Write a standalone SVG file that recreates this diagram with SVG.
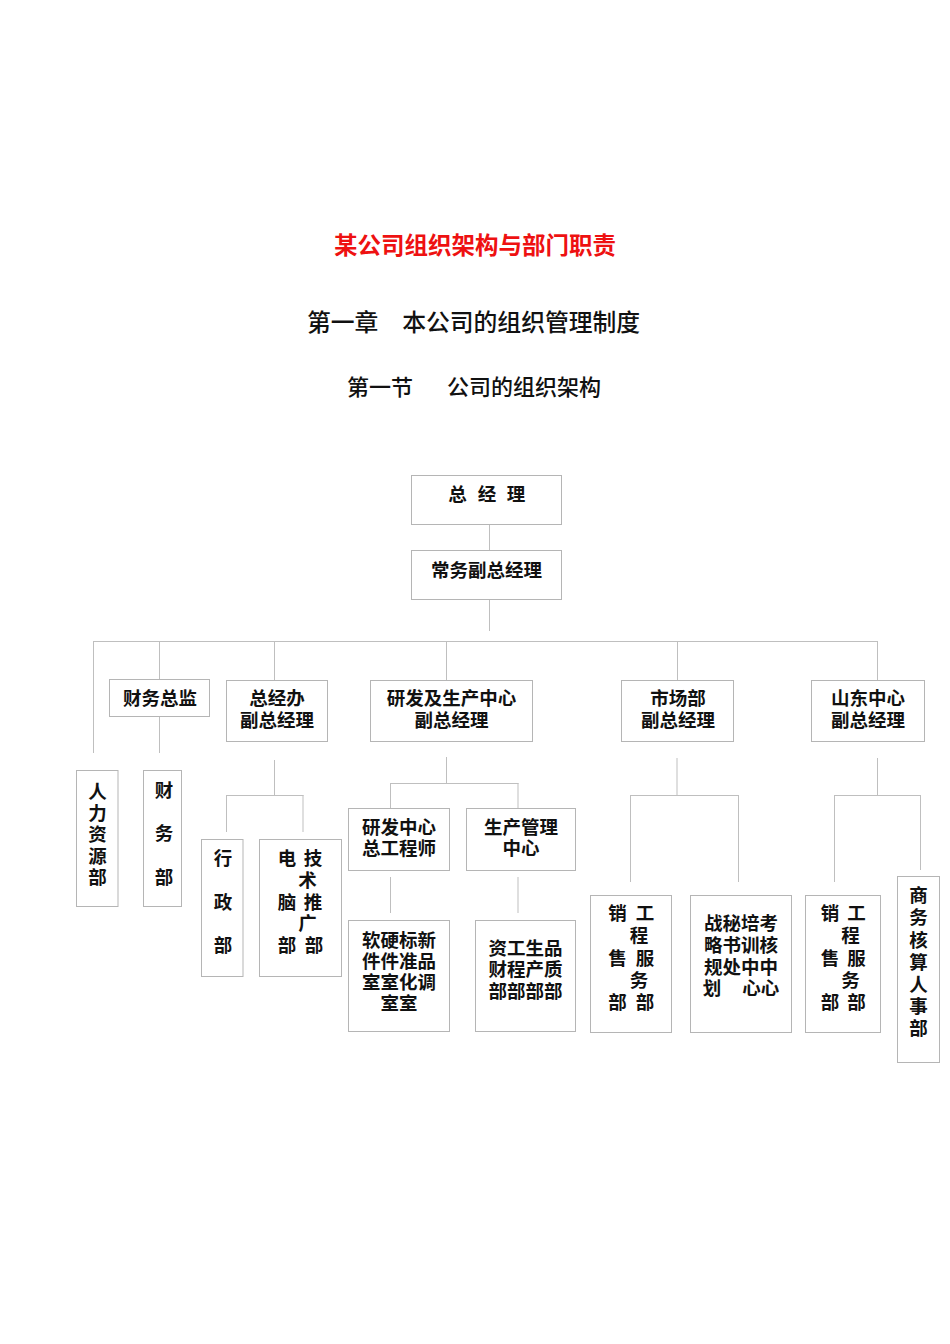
<svg xmlns="http://www.w3.org/2000/svg" width="950" height="1344" viewBox="0 0 950 1344">
  <style>
    .box { fill: #ffffff; stroke: #b5b5b5; stroke-width: 1; }
    .wire { fill: none; stroke: #bfbfbf; stroke-width: 1; }
    .t { font-family: "Noto Sans CJK SC", "Noto Sans", sans-serif; font-weight: 700; font-size: 18.5px; fill: #111111; text-anchor: middle; }
    .title { font-family: "Noto Sans CJK SC", sans-serif; font-weight: 700; font-size: 23.5px; fill: #ee1111; text-anchor: middle; }
    .head { font-family: "Noto Sans CJK SC", sans-serif; font-weight: 500; fill: #111111; }
  </style>
  <rect width="950" height="1344" fill="#ffffff"/>

  <!-- headings -->
  <text class="title" x="475" y="254">某公司组织架构与部门职责</text>
  <text class="head" x="307" y="331" font-size="23.8">第一章　本公司的组织管理制度</text>
  <text class="head" font-size="22" y="395"><tspan x="347">第一节</tspan><tspan x="447">公司的组织架构</tspan></text>

  <!-- connectors -->
  <g id="connectors" class="wire">
    <path d="M489.5 524 V550 M489.5 599 V631"/>
    <path d="M93 641.5 H878"/>
    <path d="M93.5 641 V753 M159.5 641 V679 M159.5 716 V753"/>
    <path d="M274.5 641 V680 M446.5 641 V680 M677.5 641 V680 M877.5 641 V680"/>
    <path d="M274.5 760 V795.5 M226 795.5 H303.5 M226.5 795 V832 M303 795 V832"/>
    <path d="M446.5 757 V783.5 M390.5 783.5 H518.5 M390.5 783 V808 M518 783 V808"/>
    <path d="M390.5 877 V913 M518 877 V913"/>
    <path d="M677 758 V795.5 M630 795.5 H739 M630.5 795 V882 M738.5 795 V882"/>
    <path d="M877.5 758 V795.5 M834 795.5 H921 M834.5 795 V882 M920.5 795 V870"/>
  </g>

  <!-- top management -->
  <g id="gm">
    <rect class="box" x="411.5" y="475.5" width="150" height="49"/>
    <text class="t" y="501"><tspan x="457.5">总</tspan><tspan x="487">经</tspan><tspan x="516">理</tspan></text>
  </g>
  <g id="deputy-gm">
    <rect class="box" x="411.5" y="550.5" width="150" height="49"/>
    <text class="t" x="486.5" y="577">常务副总经理</text>
  </g>

  <!-- second level -->
  <g id="cfo">
    <rect class="box" x="109.5" y="679.5" width="100" height="37"/>
    <text class="t" x="160" y="705">财务总监</text>
  </g>
  <g id="office-vp">
    <rect class="box" x="226.5" y="680.5" width="101" height="61"/>
    <text class="t" x="277" y="705">总经办</text>
    <text class="t" x="277" y="727">副总经理</text>
  </g>
  <g id="rnd-vp">
    <rect class="box" x="370.5" y="680.5" width="162" height="61"/>
    <text class="t" x="451.5" y="705">研发及生产中心</text>
    <text class="t" x="451.5" y="727">副总经理</text>
  </g>
  <g id="market-vp">
    <rect class="box" x="621.5" y="680.5" width="112" height="61"/>
    <text class="t" x="678" y="705">市场部</text>
    <text class="t" x="678" y="727">副总经理</text>
  </g>
  <g id="shandong-vp">
    <rect class="box" x="811.5" y="680.5" width="113" height="61"/>
    <text class="t" x="868" y="705">山东中心</text>
    <text class="t" x="868" y="727">副总经理</text>
  </g>

  <!-- departments -->
  <g id="hr">
    <rect class="box" x="76.5" y="770.5" width="41.5" height="136"/>
    <text class="t" x="97.5"><tspan x="97.5" y="798">人</tspan><tspan x="97.5" y="819.5">力</tspan><tspan x="97.5" y="841">资</tspan><tspan x="97.5" y="862.5">源</tspan><tspan x="97.5" y="884">部</tspan></text>
  </g>
  <g id="finance">
    <rect class="box" x="143.5" y="770.5" width="38" height="136"/>
    <text class="t"><tspan x="164" y="797">财</tspan><tspan x="164" y="840">务</tspan><tspan x="164" y="884">部</tspan></text>
  </g>
  <g id="admin">
    <rect class="box" x="201.5" y="839.5" width="41.5" height="137"/>
    <text class="t"><tspan x="223" y="865">行</tspan><tspan x="223" y="909">政</tspan><tspan x="223" y="952">部</tspan></text>
  </g>
  <g id="it-tech">
    <rect class="box" x="259.5" y="839.5" width="82" height="137"/>
    <text class="t"><tspan x="287" y="865">电</tspan><tspan x="287" y="909">脑</tspan><tspan x="287" y="952">部</tspan></text>
    <text class="t"><tspan x="313" y="865">技</tspan><tspan x="307.5" y="887">术</tspan><tspan x="313" y="909">推</tspan><tspan x="307.5" y="930">广</tspan><tspan x="314" y="952">部</tspan></text>
  </g>
  <g id="rd-center">
    <rect class="box" x="348.5" y="808.5" width="101" height="62"/>
    <text class="t" x="399" y="834">研发中心</text>
    <text class="t" x="399" y="855">总工程师</text>
  </g>
  <g id="production">
    <rect class="box" x="466.5" y="808.5" width="109" height="62"/>
    <text class="t" x="521" y="834">生产管理</text>
    <text class="t" x="521" y="855">中心</text>
  </g>
  <g id="rd-labs">
    <rect class="box" x="348.5" y="920.5" width="101" height="111"/>
    <text class="t" x="399" y="947">软硬标新</text>
    <text class="t" x="399" y="968">件件准品</text>
    <text class="t" x="399" y="989">室室化调</text>
    <text class="t" x="399" y="1010">室室</text>
  </g>
  <g id="prod-depts">
    <rect class="box" x="475.5" y="920.5" width="100" height="111"/>
    <text class="t" x="525.5" y="955">资工生品</text>
    <text class="t" x="525.5" y="976">财程产质</text>
    <text class="t" x="525.5" y="998">部部部部</text>
  </g>
  <g id="sales-market">
    <rect class="box" x="590.5" y="895.5" width="81" height="137"/>
    <text class="t"><tspan x="617.5" y="920">销</tspan><tspan x="617.5" y="965">售</tspan><tspan x="617.5" y="1009">部</tspan></text>
    <text class="t"><tspan x="645" y="920">工</tspan><tspan x="639" y="942">程</tspan><tspan x="645" y="965">服</tspan><tspan x="639" y="987">务</tspan><tspan x="645" y="1009">部</tspan></text>
  </g>
  <g id="strategy">
    <rect class="box" x="690.5" y="895.5" width="101" height="137"/>
    <text class="t" x="741" y="930">战秘培考</text>
    <text class="t" x="741" y="952">略书训核</text>
    <text class="t" x="741" y="974">规处中中</text>
    <text class="t" y="995"><tspan x="712">划</tspan><tspan x="751.5">心</tspan><tspan x="770">心</tspan></text>
  </g>
  <g id="sales-shandong">
    <rect class="box" x="805.5" y="895.5" width="75" height="137"/>
    <text class="t"><tspan x="830" y="920">销</tspan><tspan x="830" y="965">售</tspan><tspan x="830" y="1009">部</tspan></text>
    <text class="t"><tspan x="856.5" y="920">工</tspan><tspan x="850.5" y="942">程</tspan><tspan x="856.5" y="965">服</tspan><tspan x="850.5" y="987">务</tspan><tspan x="856.5" y="1009">部</tspan></text>
  </g>
  <g id="business-hr">
    <rect class="box" x="897.5" y="876.5" width="42" height="186"/>
    <text class="t"><tspan x="918.5" y="902">商</tspan><tspan x="918.5" y="924">务</tspan><tspan x="918.5" y="946.5">核</tspan><tspan x="918.5" y="968.5">算</tspan><tspan x="918.5" y="991">人</tspan><tspan x="918.5" y="1013">事</tspan><tspan x="918.5" y="1035">部</tspan></text>
  </g>
</svg>
